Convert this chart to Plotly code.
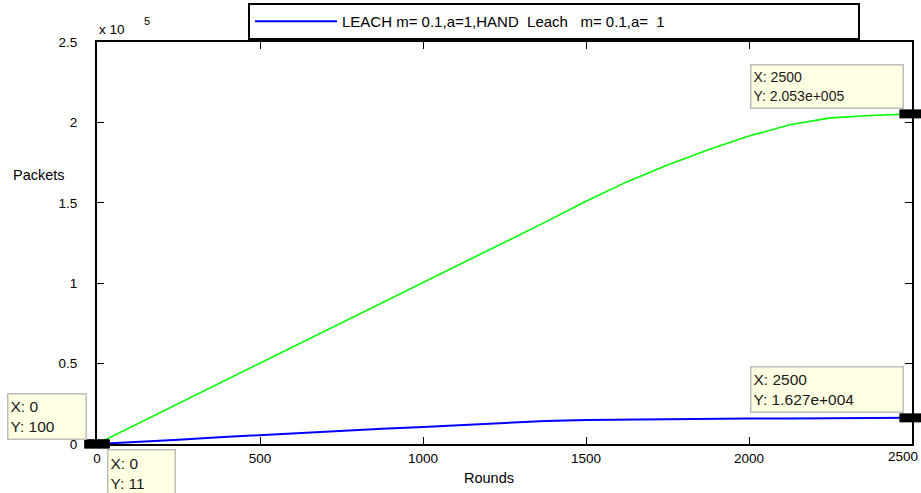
import plotly.graph_objects as go

# ---- data ----
rounds = [0, 125, 250, 375, 500, 625, 750, 875, 1000, 1125, 1250, 1375,
          1500, 1625, 1750, 1875, 2000, 2125, 2250, 2375, 2500]
hand_packets = [100, 12600, 25100, 37600, 50000, 62500, 75000, 87500, 100000,
                112600, 125200, 138000, 151000, 163000, 173500, 183000, 191500,
                198500, 202800, 204300, 205300]
leach_packets = [11, 1200, 2700, 4200, 5600, 7000, 8300, 9500, 10600, 11800,
                 13100, 14300, 15000, 15300, 15500, 15650, 15800, 15900, 16000,
                 16100, 16270]
ytick_vals = [0, 50000, 100000, 150000, 200000, 250000]
ytick_text = ["0", "0.5", "1", "1.5", "2", "2.5"]
xtick_vals = [0, 500, 1000, 1500, 2000, 2500]
xtick_text = ["0", "500", "1000", "1500", "2000", "2500"]
legend_label = "LEACH m= 0.1,a=1,HAND  Leach   m= 0.1,a=  1"

FONT = "Liberation Sans, Arial, sans-serif"

# plot area in pixels
W, H = 921, 493
L, R, T, B = 97, 912, 42, 444
PW, PH = R - L, B - T


def px(x):
    return (x - L) / PW


def py(y):
    return (B - y) / PH


def mfmt(v):
    """MATLAB-like data tip number format."""
    if abs(v) >= 1e4:
        s = "%.3e" % v
        mant, exp = s.split("e")
        sign = exp[0]
        return "%se%s%03d" % (mant, sign, int(exp[1:]))
    return "%g" % v


fig = go.Figure()
fig.add_trace(go.Scatter(x=rounds, y=leach_packets, mode="lines",
                         line=dict(color="#0000FF", width=2),
                         name=legend_label, showlegend=True))
fig.add_trace(go.Scatter(x=rounds, y=hand_packets, mode="lines",
                         line=dict(color="#00FF00", width=1.6),
                         showlegend=False))
# data-tip markers
fig.add_trace(go.Scatter(
    x=[rounds[0], rounds[0], rounds[-1], rounds[-1]],
    y=[leach_packets[0], hand_packets[0], leach_packets[-1], hand_packets[-1]],
    mode="markers", showlegend=False, cliponaxis=False,
    marker=dict(symbol="line-ew", size=18,
                line=dict(color="black", width=9))))

ann = []
tip_bg = "#FFFFE1"
tip_border = "#BDBDBD"


def tip(x0, y0, w, h, text, size):
    ann.append(dict(xref="paper", yref="paper", x=px(x0), y=py(y0),
                    xanchor="left", yanchor="top", showarrow=False,
                    text=text, align="left", valign="middle",
                    width=w, height=h, borderpad=2,
                    bgcolor=tip_bg, bordercolor=tip_border, borderwidth=1.5,
                    font=dict(family=FONT, size=size, color="#1a1a1a")))


tip(750, 64, 147, 38, "X: %d<br>Y: %s" % (rounds[-1], mfmt(hand_packets[-1])), 14)
tip(750, 366, 147, 40, "X: %d<br>Y: %s" % (rounds[-1], mfmt(leach_packets[-1])), 15.5)
tip(7, 393, 73, 40, "X: %d<br>Y: %s" % (rounds[0], mfmt(hand_packets[0])), 15.5)
tip(107, 449, 62, 42, "X: %d<br>Y: %s" % (rounds[0], mfmt(leach_packets[0])), 15.5)

# last x tick label sits flush with the window edge (as in the original)
shown_xtext = xtick_text[:-1] + [""]
ann.append(dict(xref="paper", yref="paper", x=px(920), y=py(457),
                text=xtick_text[-1], showarrow=False, xanchor="right",
                yanchor="middle",
                font=dict(family=FONT, size=13.5, color="black")))

# axis labels and exponent
ann.append(dict(xref="paper", yref="paper", x=px(39), y=py(175), text="Packets",
                showarrow=False, xanchor="center", yanchor="middle",
                font=dict(family=FONT, size=14.5, color="black")))
ann.append(dict(xref="paper", yref="paper", x=px(489), y=py(478), text="Rounds",
                showarrow=False, xanchor="center", yanchor="middle",
                font=dict(family=FONT, size=14.5, color="black")))
ann.append(dict(xref="paper", yref="paper", x=px(97), y=py(29), text="x 10",
                showarrow=False, xanchor="left", yanchor="middle",
                font=dict(family=FONT, size=13.5, color="black")))
ann.append(dict(xref="paper", yref="paper", x=px(147), y=py(21), text="5",
                showarrow=False, xanchor="center", yanchor="middle",
                font=dict(family=FONT, size=11, color="black")))

axis_common = dict(showline=True, linecolor="black", linewidth=2, mirror="ticks",
                   ticks="inside", ticklen=7, tickwidth=1, tickcolor="black",
                   showgrid=False, zeroline=False, automargin=False,
                   ticklabeloverflow="allow",
                   tickfont=dict(family=FONT, size=13.5, color="black"))

fig.update_layout(
    width=W, height=H,
    margin=dict(l=L, r=W - R, t=T, b=H - B, pad=0, autoexpand=False),
    paper_bgcolor="white", plot_bgcolor="white",
    font=dict(family=FONT, color="black"),
    xaxis=dict(range=[0, 2500], tickvals=xtick_vals, ticktext=shown_xtext,
               ticklabelstandoff=1, **axis_common),
    yaxis=dict(range=[0, 250000], tickvals=ytick_vals, ticktext=ytick_text,
               ticklabelstandoff=15, **axis_common),
    legend=dict(x=px(248), y=py(3), xanchor="left", yanchor="top",
                orientation="h", bgcolor="white", bordercolor="black",
                borderwidth=2, itemwidth=82, entrywidth=511,
                entrywidthmode="pixels",
                font=dict(family=FONT, size=15, color="black")),
    annotations=ann,
    showlegend=True,
)

fig.write_html("out.html",
               config={"displayModeBar": False},
               post_script="document.body.style.margin='0';"
                           "document.body.style.overflow='hidden';")
